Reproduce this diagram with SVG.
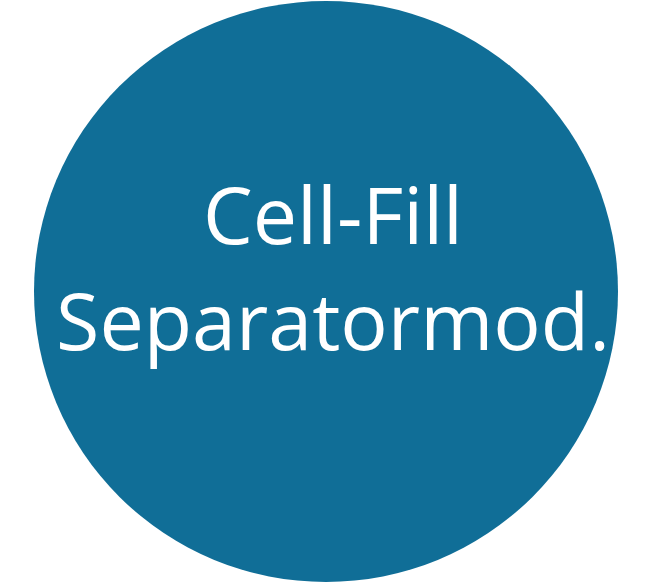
<svg xmlns="http://www.w3.org/2000/svg" width="668" height="583" viewBox="0 0 668 583">
<style>
.lbl{font-family:"Open Sans","Liberation Sans",sans-serif;font-size:79px;fill:#ffffff;text-anchor:middle}
</style>
<rect width="668" height="583" fill="#ffffff"/>
<g id="node-cellfill">
<ellipse cx="326" cy="291.5" rx="292" ry="290.5" fill="#106E97"/>
<text class="lbl" x="333" y="244">Cell-Fill</text>
<text class="lbl" x="333" y="350">Separatormod.</text>
</g>
<g id="connectors"/>
</svg>
